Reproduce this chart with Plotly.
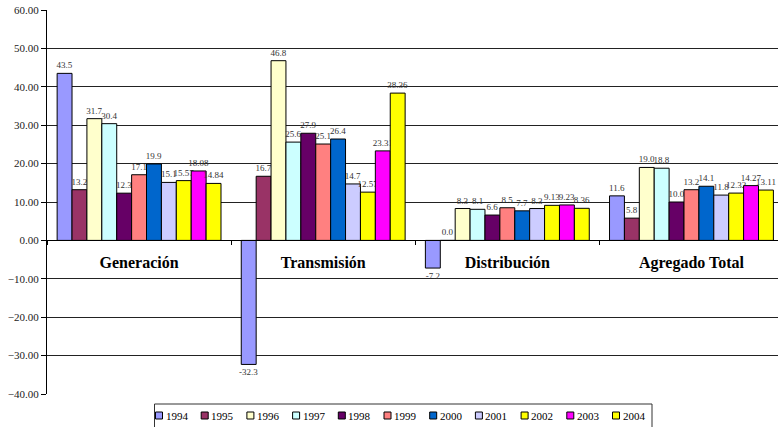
import plotly.graph_objects as go

# Segment categories and reporting years
categories = ["Generación", "Transmisión", "Distribución", "Agregado Total"]
years = ["1994", "1995", "1996", "1997", "1998", "1999",
         "2000", "2001", "2002", "2003", "2004"]

# Values per segment, one entry per year (1994..2004)
generacion = [43.5, 13.2, 31.7, 30.4, 12.3, 17.1, 19.9, 15.1, 15.57, 18.08, 14.84]
transmision = [-32.3, 16.7, 46.8, 25.6, 27.9, 25.1, 26.4, 14.7, 12.57, 23.31, 38.36]
distribucion = [-7.2, 0.0, 8.3, 8.1, 6.6, 8.5, 7.7, 8.3, 9.13, 9.23, 8.36]
agregado = [11.6, 5.8, 19.0, 18.8, 10.0, 13.2, 14.1, 11.8, 12.32, 14.27, 13.11]

y_ticks = [60, 50, 40, 30, 20, 10, 0, -10, -20, -30, -40]

year_colors = ["#9999FF", "#993366", "#FFFFCC", "#CCFFFF", "#660066", "#FF8080",
               "#0066CC", "#CCCCFF", "#FFFF00", "#FF00FF", "#FFFF00"]

SERIF = "Liberation Serif"

W, H = 778, 427
M_L, M_R, M_T, M_B = 47, 0, 10, 33
PLOT_W = W - M_L - M_R
PLOT_H = H - M_T - M_B


def fmt(v):
    return f"{v:.1f}" if round(v, 1) == v else f"{v:.2f}"


def px_x(px):
    return (px - M_L) / PLOT_W


def px_y(py):
    return (H - M_B - py) / PLOT_H


fig = go.Figure()
for i, (yr, col) in enumerate(zip(years, year_colors)):
    vals = [generacion[i], transmision[i], distribucion[i], agregado[i]]
    fig.add_trace(go.Bar(
        name=yr,
        x=categories,
        y=vals,
        marker=dict(color=col, line=dict(color="black", width=1)),
        text=[fmt(v) for v in vals],
        textposition="outside",
        constraintext="none",
        cliponaxis=False,
        textfont=dict(family=SERIF, size=9, color="#333333"),
        showlegend=False,
        hoverinfo="skip",
    ))

# Legend box drawn below the plot area
shapes = []
annotations = []
box_left, box_right, box_top, box_bottom = 154.5, 652, 404, 430
shapes.append(dict(type="rect", xref="paper", yref="paper",
                   x0=px_x(box_left), x1=px_x(box_right),
                   y0=px_y(box_bottom), y1=px_y(box_top),
                   line=dict(color="#333333", width=1), fillcolor="white", layer="above"))
step = 45.7
for i, (yr, col) in enumerate(zip(years, year_colors)):
    left = 155.5 + i * step
    shapes.append(dict(type="rect", xref="paper", yref="paper",
                       x0=px_x(left), x1=px_x(left + 7),
                       y0=px_y(419), y1=px_y(412),
                       line=dict(color="black", width=1), fillcolor=col, layer="above"))
    annotations.append(dict(xref="paper", yref="paper", x=px_x(left + 8), y=px_y(415.5),
                            text=yr, showarrow=False, xanchor="left", yanchor="middle",
                            font=dict(family=SERIF, size=11, color="black")))

fig.update_layout(
    width=W, height=H,
    margin=dict(l=M_L, r=M_R, t=M_T, b=M_B, pad=0),
    paper_bgcolor="white", plot_bgcolor="white",
    font=dict(family=SERIF),
    barmode="group", bargap=0.11, bargroupgap=0,
    shapes=shapes, annotations=annotations,
    xaxis=dict(
        type="category", range=[-0.5, 3.47],
        anchor="free", position=0.4,
        showline=True, linecolor="black", linewidth=1,
        ticks="outside", tickson="boundaries", ticklen=4, tickcolor="black",
        tickfont=dict(family=SERIF, size=16, color="black", weight="bold"),
        ticklabelstandoff=7,
        showgrid=False, zeroline=False,
    ),
    yaxis=dict(
        range=[-40, 60], tickvals=y_ticks, tickformat=".2f",
        showgrid=True, gridcolor="#222222", gridwidth=1,
        zeroline=False,
        showline=True, linecolor="black", linewidth=1,
        ticks="outside", ticklen=5, tickcolor="black",
        tickfont=dict(family=SERIF, size=11, color="#222222"),
    ),
)

fig.write_html("out.html")
